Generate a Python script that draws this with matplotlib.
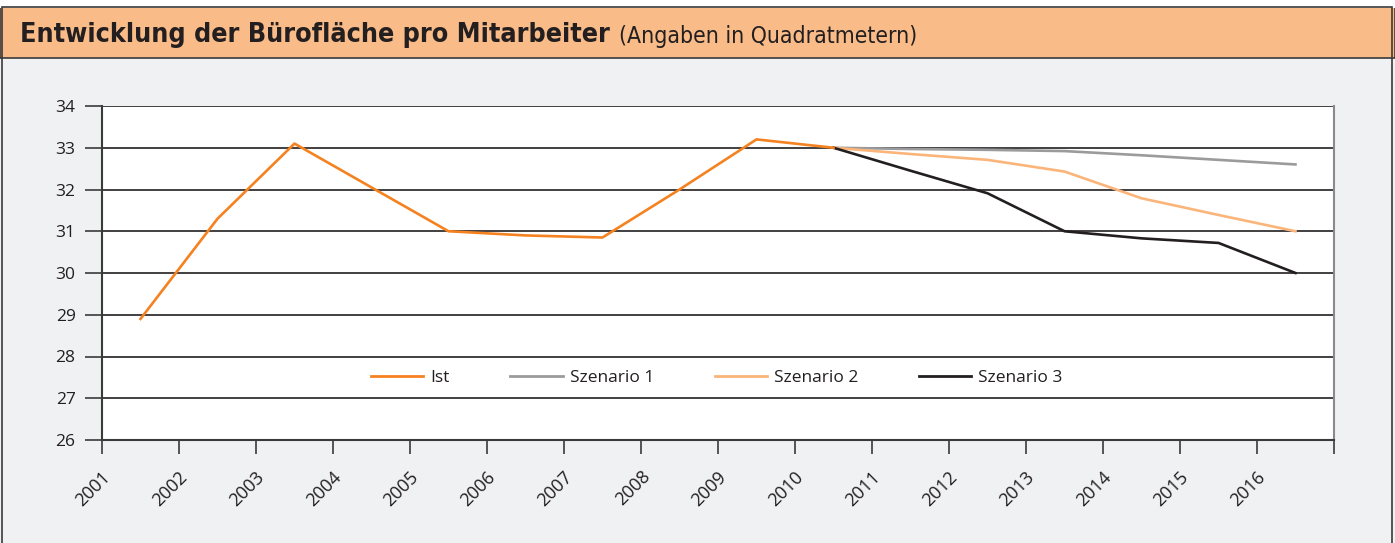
import numpy as np
import matplotlib.pyplot as plt
from matplotlib.patches import Rectangle
from matplotlib.lines import Line2D
from matplotlib.transforms import ScaledTranslation, blended_transform_factory

# data
years = [str(y) for y in range(2001, 2017)]
ist = [28.9, 31.3, 33.1, 32.05, 31.0, 30.9, 30.85, 32.0, 33.2, 33.0]
szenario_1 = [33.0, 32.97, 32.95, 32.92, 32.82, 32.71, 32.6]
szenario_2 = [33.0, 32.85, 32.71, 32.43, 31.79, 31.39, 31.0]
szenario_3 = [33.0, 32.45, 31.91, 31.0, 30.83, 30.72, 30.0]
y_ticks = list(range(26, 35))

c_ist = '#F58220'
c_s1 = '#9B9B9D'
c_s2 = '#FBB57A'
c_s3 = '#231F20'
bg = '#F0F1F3'
header = '#F9BC88'

plt.rcParams['font.family'] = ['Open Sans', 'DejaVu Sans']

fig = plt.figure(figsize=(13.95, 5.43), dpi=100, facecolor=bg)

# header band and outer frame
fig.patches.append(Rectangle((0, 1 - 58 / 543), 1, 51 / 543, transform=fig.transFigure,
                             facecolor=header, edgecolor='#3a3a3a', lw=1.2, zorder=0))
fig.patches.append(Rectangle((0, 1 - 8 / 543), 1, 8 / 543, transform=fig.transFigure,
                             facecolor='white', edgecolor='none', zorder=0))
fig.patches.append(Rectangle((2 / 1395, -0.01), 1390 / 1395, 1 - 7 / 543 + 0.01,
                             transform=fig.transFigure, facecolor='none',
                             edgecolor='#3a3a3a', lw=1.2, zorder=1))

t = fig.text(20 / 1395, 1 - 35 / 543, 'Entwicklung der Bürofläche pro Mitarbeiter',
             fontsize=19.3, fontweight='bold', fontstretch='condensed', va='center',
             ha='left', color='#231F20', family=['DejaVu Sans'])
fig.canvas.draw()
bb = t.get_window_extent()
if bb.x1 > 640:
    # no condensed face available: shrink to the reference width
    t.set_fontsize(19 * 592 / (bb.x1 - 20))
    fig.canvas.draw()
    bb = t.get_window_extent()
fig.text(bb.x1 / 1395 + 9 / 1395, 1 - 37 / 543, '(Angaben in Quadratmetern)',
         fontsize=16.5, fontstretch='condensed', va='center', ha='left',
         color='#231F20', family=['DejaVu Sans'])

ax = fig.add_axes([102 / 1395, 1 - 440 / 543, 1232 / 1395, 334 / 543])
ax.set_facecolor('white')

n = len(years)
x_ist = np.arange(len(ist)) + 0.5
x_sz = np.arange(len(ist) - 1, n) + 0.5

ax.plot(x_sz, szenario_1, color=c_s1, lw=1.9, label='Szenario 1', zorder=3)
ax.plot(x_sz, szenario_2, color=c_s2, lw=1.9, label='Szenario 2', zorder=3)
ax.plot(x_sz, szenario_3, color=c_s3, lw=1.9, label='Szenario 3', zorder=3)
ax.plot(x_ist, ist, color=c_ist, lw=1.9, label='Ist', zorder=4)

ax.set_xlim(0, n)
ax.set_ylim(26, 34)
ax.set_yticks(y_ticks)
ax.yaxis.grid(True, color='#231F20', lw=1.2)
ax.set_axisbelow(True)

# year labels sit at the category boundaries, rotated
ax.set_xticks(np.arange(n + 1))
ax.set_xticklabels([])
trans = blended_transform_factory(ax.transData, ax.transAxes) + \
    ScaledTranslation(6 / 100, -34 / 100, fig.dpi_scale_trans)
for i, yr in enumerate(years):
    ax.text(i, 0, yr, transform=trans, rotation=45, ha='right', va='center',
            rotation_mode='anchor', fontsize=13, color='#231F20')

ax.tick_params(axis='x', length=10, width=1.2, color='#3a3a3a')
ax.tick_params(axis='y', length=12, width=1.2, color='#3a3a3a', labelsize=12.5,
               labelcolor='#231F20', pad=7)

for s in ['left', 'bottom']:
    ax.spines[s].set_color('#3a3a3a')
    ax.spines[s].set_linewidth(1.5)
ax.spines['top'].set_visible(False)
ax.spines['right'].set_color('#8a8a8e')
ax.spines['right'].set_linewidth(1.5)

handles = [Line2D([], [], color=c, lw=2) for c in [c_ist, c_s1, c_s2, c_s3]]
ax.legend(handles, ['Ist', 'Szenario 1', 'Szenario 2', 'Szenario 3'], ncol=4,
          loc='center', bbox_to_anchor=(0.499, 0.186), frameon=False, fontsize=12.5,
          handlelength=3.0, handletextpad=0.4, columnspacing=3.5,
          labelcolor='#231F20')

fig.savefig('out.png', dpi=100, facecolor=bg)
